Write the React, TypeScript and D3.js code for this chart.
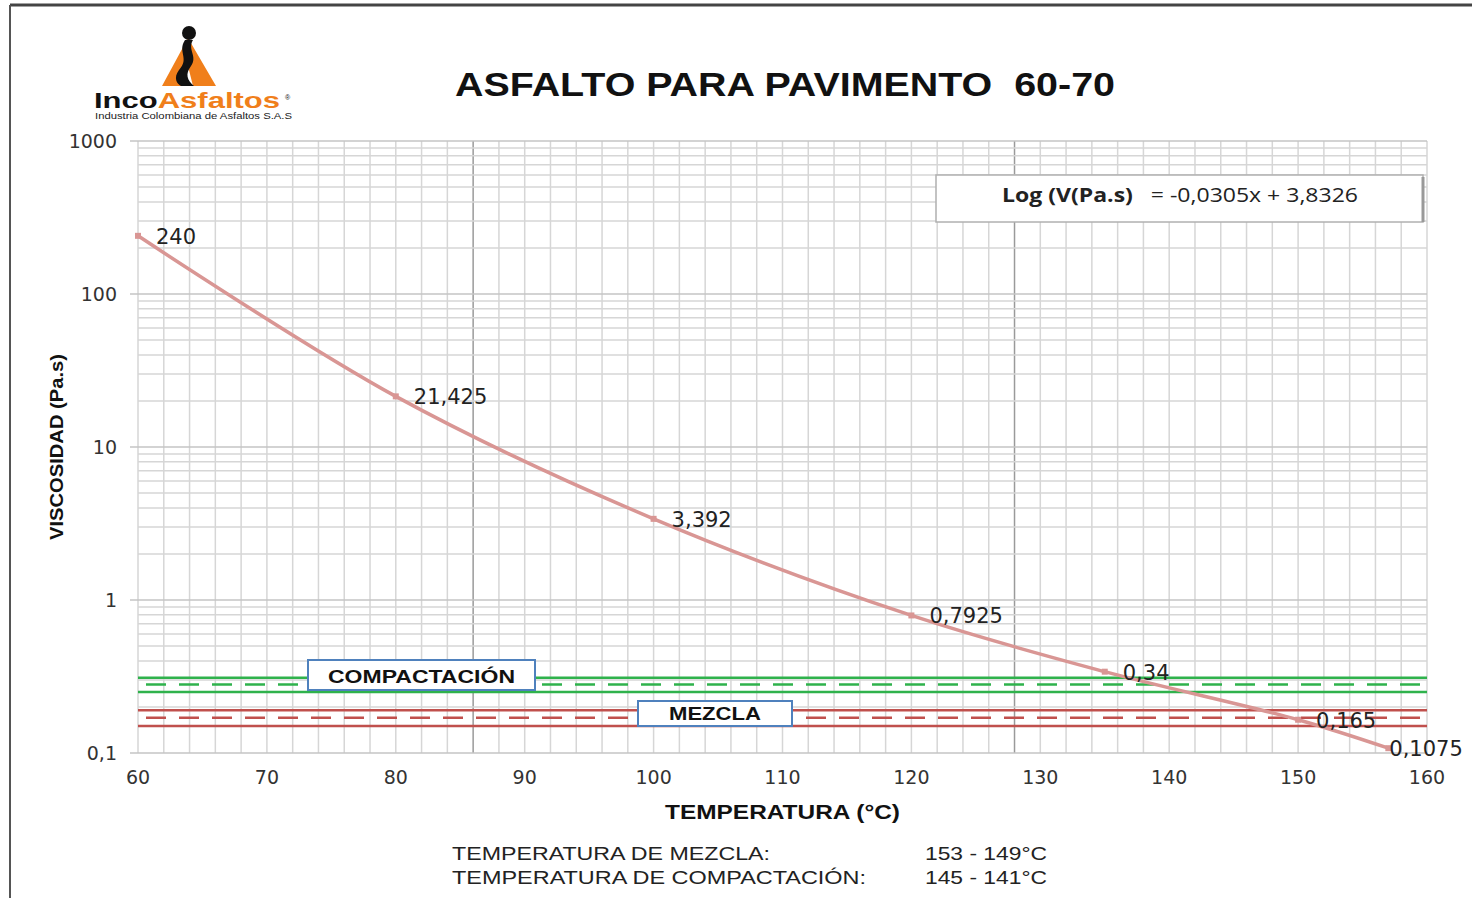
import React from 'react';
import * as d3 from 'd3';

// values
const temps = [60, 80, 100, 120, 135, 150, 157];
const viscosity = [240, 21.425, 3.392, 0.7925, 0.34, 0.165, 0.1075];
const pointLabels = ['240', '21,425', '3,392', '0,7925', '0,34', '0,165', '0,1075'];

const xTicks = [60, 70, 80, 90, 100, 110, 120, 130, 140, 150, 160];
const yTicks = [0.1, 1, 10, 100, 1000];
const yTickLabels = ['0,1', '1', '10', '100', '1000'];

// viscosity bands: [low, mid, high]
const compactacion = [0.25, 0.28, 0.31];
const mezcla = [0.15, 0.17, 0.19];

const darkVerticals = [86, 128];

const App = () => {
  const width = 1472;
  const height = 898;
  const margin = { top: 141, right: 45, bottom: 145, left: 138 };

  const x = d3.scaleLinear().domain([60, 160]).range([margin.left, width - margin.right]);
  const y = d3.scaleLog().domain([0.1, 1000]).range([height - margin.bottom, margin.top]);

  const minorY: number[] = [];
  [0.1, 1, 10, 100].forEach((d) => {
    for (let k = 2; k <= 9; k++) minorY.push(d * k);
  });
  const vLines = d3.range(60, 161, 2);

  const line = d3
    .line<number>()
    .x((_, i) => x(temps[i]))
    .y((d) => y(d))
    .curve(d3.curveCatmullRom.alpha(0.5));

  const gridColor = '#d6d6d6';
  const font = 'Liberation Sans, Arial, sans-serif';
  const wide = 'DejaVu Sans, sans-serif';
  const pre = { whiteSpace: 'pre' as const };

  const band = (vals: number[], color: string) => (
    <g>
      <line x1={x(60)} x2={x(160)} y1={y(vals[0])} y2={y(vals[0])} stroke={color} strokeWidth={2.5} />
      <line x1={x(60)} x2={x(160)} y1={y(vals[2])} y2={y(vals[2])} stroke={color} strokeWidth={2.5} />
      <line x1={x(60) + 8} x2={x(160)} y1={y(vals[1])} y2={y(vals[1])} stroke={color} strokeWidth={2.5}
        strokeDasharray="20 13" />
    </g>
  );

  return (
    <svg width={width} height={height} style={{ position: 'absolute', left: 0, top: 0, background: '#fff' }}
      fontFamily={font}>
      {/* frame */}
      <line x1={10} x2={width} y1={5} y2={5} stroke="#444" strokeWidth={3} />
      <line x1={10} x2={10} y1={5} y2={height} stroke="#555" strokeWidth={2} />

      {/* logo */}
      <g>
        <path d="M188,38 L162,86 L183,86 L188,66 L193,86 L216,86 Z" fill="#f07f1b" />
        <path d="M185,40 C177,52 190,58 179,70 C173,78 177,84 181,86 L194,86 C187,80 185,74 191,66 C198,56 187,50 193,40 Z"
          fill="#111" />
        <ellipse cx={189} cy={33} rx={7} ry={7} fill="#111" />
        <text x={94} y={108} fontSize={22} fontWeight="bold" fill="#111" textLength={186}
          lengthAdjust="spacingAndGlyphs">
          Inco<tspan fill="#f07f1b">Asfaltos</tspan>
        </text>
        <text x={285} y={100} fontSize={7} fill="#111">®</text>
        <text x={95} y={119} fontSize={9.3} fill="#222" textLength={197} lengthAdjust="spacingAndGlyphs">
          Industria Colombiana de Asfaltos S.A.S
        </text>
      </g>

      {/* title */}
      <text x={455} y={96} fontSize={34} fontWeight="bold" fill="#111" style={pre} textLength={660}
        lengthAdjust="spacingAndGlyphs">
        ASFALTO PARA PAVIMENTO  60-70
      </text>

      {/* grid */}
      <g>
        {vLines.map((d) => (
          <line key={'v' + d} x1={x(d)} x2={x(d)} y1={y(1000)} y2={y(0.1)}
            stroke={darkVerticals.includes(d) ? '#9a9a9a' : gridColor} strokeWidth={1.5} />
        ))}
        {minorY.map((d) => (
          <line key={'m' + d} x1={x(60)} x2={x(160)} y1={y(d)} y2={y(d)} stroke={gridColor} strokeWidth={1.5} />
        ))}
        {yTicks.map((d) => (
          <line key={'y' + d} x1={x(60) - 8} x2={x(160)} y1={y(d)} y2={y(d)} stroke="#c4c4c4" strokeWidth={1.5} />
        ))}
      </g>

      {/* axis labels */}
      {yTicks.map((d, i) => (
        <text key={'yl' + d} x={117} y={y(d) + 7} fontSize={19} textAnchor="end" fill="#333" fontFamily={wide}>
          {yTickLabels[i]}
        </text>
      ))}
      {xTicks.map((d) => (
        <text key={'xl' + d} x={x(d)} y={784} fontSize={19} textAnchor="middle" fill="#333" fontFamily={wide}>
          {d}
        </text>
      ))}
      <text x={665} y={819} fontSize={20} fontWeight="bold" fill="#111" textLength={235}
        lengthAdjust="spacingAndGlyphs">
        TEMPERATURA (°C)
      </text>
      <text transform="translate(63,540) rotate(-90)" fontSize={19} fontWeight="bold" fill="#111" textLength={186}
        lengthAdjust="spacingAndGlyphs">
        VISCOSIDAD (Pa.s)
      </text>

      {/* bands */}
      {band(compactacion, '#2fb24c')}
      {band(mezcla, '#c0504d')}

      {/* curve */}
      <path d={line(viscosity) || ''} fill="none" stroke="#d99694" strokeWidth={3.5} />
      {viscosity.map((d, i) => (
        <rect key={'p' + i} x={x(temps[i]) - 3} y={y(d) - 3} width={6} height={6} fill="#d99694" />
      ))}
      {viscosity.map((d, i) => (
        <text key={'pl' + i} x={i === viscosity.length - 1 ? x(temps[i]) + 1 : x(temps[i]) + 18} y={y(d) + 8}
          fontSize={21} fill="#222" fontFamily={wide}>
          {pointLabels[i]}
        </text>
      ))}

      {/* band labels */}
      <rect x={308} y={660} width={227} height={30} fill="#fff" stroke="#4f81bd" strokeWidth={2} />
      <text x={328} y={683} fontSize={19} fontWeight="bold" fill="#111" textLength={187}
        lengthAdjust="spacingAndGlyphs">COMPACTACIÓN</text>
      <rect x={638} y={701} width={154} height={25} fill="#fff" stroke="#4f81bd" strokeWidth={2} />
      <text x={669} y={720} fontSize={19} fontWeight="bold" fill="#111" textLength={92}
        lengthAdjust="spacingAndGlyphs">MEZCLA</text>

      {/* equation */}
      <rect x={936} y={175} width={487} height={47} fill="#fff" stroke="#b0b0b0" strokeWidth={1.5} />
      <line x1={1423} x2={1423} y1={177} y2={222} stroke="#999" strokeWidth={3} />
      <text x={1002} y={202} fontSize={20} fill="#222" fontFamily="Open Sans, sans-serif" style={pre}
        textLength={356} lengthAdjust="spacingAndGlyphs">
        <tspan fontWeight="bold">Log (V(Pa.s)</tspan>
        <tspan>{'   = -0,0305x + 3,8326'}</tspan>
      </text>

      {/* notes */}
      <g fontSize={19} fill="#222">
        <text x={452} y={860} textLength={318} lengthAdjust="spacingAndGlyphs">TEMPERATURA DE MEZCLA:</text>
        <text x={925} y={860} textLength={122} lengthAdjust="spacingAndGlyphs">153 - 149°C</text>
        <text x={452} y={884} textLength={414} lengthAdjust="spacingAndGlyphs">TEMPERATURA DE COMPACTACIÓN:</text>
        <text x={925} y={884} textLength={122} lengthAdjust="spacingAndGlyphs">145 - 141°C</text>
      </g>
    </svg>
  );
};

export default App;
